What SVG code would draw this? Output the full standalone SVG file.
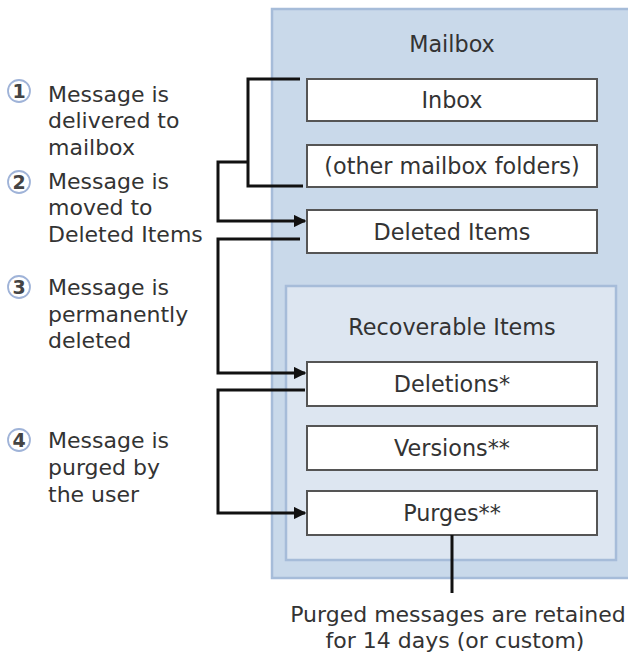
<svg xmlns="http://www.w3.org/2000/svg" width="628" height="657" viewBox="0 0 628 657">
<defs>
<style>
text{font-family:"DejaVu Sans",Verdana,sans-serif;fill:#333;}
.t{font-size:22.3px;}
.l{font-size:22px;}
.c{text-anchor:middle;}
.box{fill:#fff;stroke:#555;stroke-width:2;}
.num{fill:#fff;stroke:#9fb3d8;stroke-width:1.8;}
.nt{font-size:19px;text-anchor:middle;font-weight:bold;fill:#444;}
.ln{fill:none;stroke:#111;stroke-width:3;}
</style>
<marker id="ah" viewBox="0 0 10 10" refX="9" refY="5" markerWidth="4.2" markerHeight="4.2" orient="auto" markerUnits="strokeWidth">
<path d="M0,0 L10,5 L0,10 z" fill="#111"/>
</marker>
</defs>
<rect width="628" height="657" fill="#fff"/>
<g id="mailbox">
<rect x="272" y="9" width="360" height="569" fill="#c9d9ea" stroke="#a6bcd9" stroke-width="2.5"/>
<text class="t c" x="452" y="52">Mailbox</text>
</g>
<g id="recoverable">
<rect x="286" y="286" width="330" height="274" fill="#dde6f1" stroke="#a6bcd9" stroke-width="2.5"/>
<text class="t c" x="452" y="335">Recoverable Items</text>
</g>
<g id="inbox"><rect class="box" x="307" y="79" width="290" height="42"/><text class="t c" x="452" y="108">Inbox</text></g>
<g id="other"><rect class="box" x="307" y="145" width="290" height="42"/><text class="t c" x="452" y="174">(other mailbox folders)</text></g>
<g id="deleted"><rect class="box" x="307" y="210" width="290" height="43"/><text class="t c" x="452" y="240">Deleted Items</text></g>
<g id="deletions"><rect class="box" x="307" y="362" width="290" height="44"/><text class="t c" x="452" y="392">Deletions*</text></g>
<g id="versions"><rect class="box" x="307" y="426" width="290" height="44"/><text class="t c" x="452" y="456">Versions**</text></g>
<g id="purges"><rect class="box" x="307" y="491" width="290" height="44"/><text class="t c" x="452" y="521">Purges**</text></g>
<g id="note">
<text class="l c" x="458" y="622">Purged messages are retained</text>
<text class="l c" x="455" y="648">for 14 days (or custom)</text>
</g>
<g id="connectors">
<path class="ln" d="M300,79 H248 V186 H303"/>
<path class="ln" d="M248,162 H218 V221 H305" marker-end="url(#ah)"/>
<path class="ln" d="M300,239 H218 V373 H305" marker-end="url(#ah)"/>
<path class="ln" d="M305,390 H218 V513 H305" marker-end="url(#ah)"/>
<path class="ln" d="M452,535 V593"/>
</g>
<g id="step1">
<circle class="num" cx="19" cy="91" r="11"/><text class="nt" x="19" y="98">1</text>
<text class="l" x="48"><tspan x="48" y="102">Message is</tspan><tspan x="48" y="128">delivered to</tspan><tspan x="48" y="155">mailbox</tspan></text>
</g>
<g id="step2">
<circle class="num" cx="19" cy="182" r="11"/><text class="nt" x="19" y="189">2</text>
<text class="l" x="48"><tspan x="48" y="189">Message is</tspan><tspan x="48" y="215">moved to</tspan><tspan x="48" y="242">Deleted Items</tspan></text>
</g>
<g id="step3">
<circle class="num" cx="19" cy="287" r="11"/><text class="nt" x="19" y="294">3</text>
<text class="l" x="48"><tspan x="48" y="295">Message is</tspan><tspan x="48" y="322">permanently</tspan><tspan x="48" y="348">deleted</tspan></text>
</g>
<g id="step4">
<circle class="num" cx="19" cy="440" r="11"/><text class="nt" x="19" y="447">4</text>
<text class="l" x="48"><tspan x="48" y="448">Message is</tspan><tspan x="48" y="475">purged by</tspan><tspan x="48" y="502">the user</tspan></text>
</g>
</svg>
